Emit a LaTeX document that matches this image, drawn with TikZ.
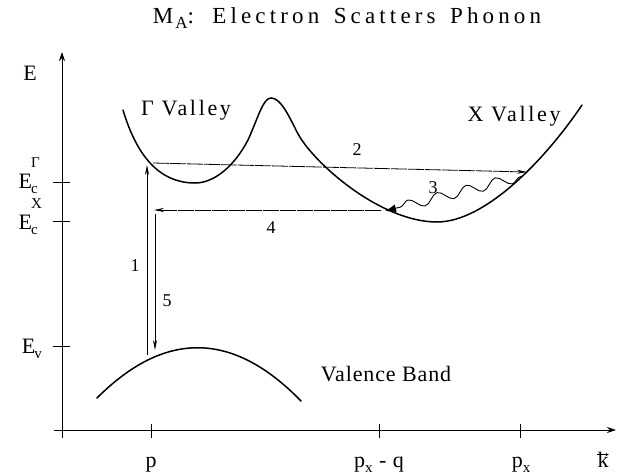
\documentclass[tikz,border=0pt]{standalone}
\usepackage{fontspec}
\setmainfont{Liberation Serif}[LetterSpace=4]
\newfontfamily\titlefont{Liberation Serif}[LetterSpace=18]
\newfontfamily\valleyfont{Liberation Serif}[LetterSpace=12]
\usetikzlibrary{arrows.meta,decorations.pathmorphing}
\newcommand{\smallfs}{\fontsize{15}{15}\selectfont}
\newcommand{\lowc}[1]{\raisebox{-0.5ex}{\smallfs #1}}
\newcommand{\highsup}[1]{\rlap{\raisebox{0.92em}{\smallfs #1}}}
\tikzset{
  axisline/.style={-{Stealth[length=9pt,width=6pt,inset=3pt]},line width=0.8pt},
  tickmark/.style={line width=0.8pt},
  bandline/.style={line width=1.5pt,line cap=round},
  transarrow/.style={-{Stealth[length=10pt,width=4pt]},line width=0.8pt},
  dashtrans/.style={transarrow,dash pattern=on 16pt off 1pt},
  phononarrow/.style={-{Latex[length=11pt,width=8pt]},line width=0.9pt,decorate,
    decoration={snake,amplitude=5pt,segment length=30pt,pre length=3pt,post length=9pt}},
  biglbl/.style={font=\fontsize{22}{26}\selectfont,inner sep=0pt},
  valleylbl/.style={font=\fontsize{22}{26}\selectfont\valleyfont,inner sep=0pt},
  numlbl/.style={font=\fontsize{18}{20}\selectfont,inner sep=0pt}
}
\begin{document}
\begin{tikzpicture}[x=1pt,y=-1pt]
\useasboundingbox (0,0) rectangle (621,474);
\node[biglbl,font=\fontsize{23}{26}\selectfont\titlefont] (title) at (347,18) {M\kern2pt\raisebox{-0.4ex}{\fontsize{17}{17}\selectfont A}:\hspace{0.8em}Electron\hspace{0.2em} Scatters\hspace{0.2em} Phonon};
\coordinate (ytop) at (62,52);
\coordinate (ybot) at (62,438);
\coordinate (xleft) at (54,430);
\coordinate (xright) at (616,430);
\draw[axisline] (ybot) -- (ytop);
\draw[axisline] (xleft) -- (xright);
\node[biglbl] (elab) at (30,73) {E};
\foreach \y/\n in {182/tg,221/tx,346/tv}{\draw[tickmark] (53,\y) -- (70,\y) coordinate (\n);}
\foreach \x/\n in {62/k0,151/kp,379/kq,520/kx}{\draw[tickmark] (\x,424) -- (\x,438) coordinate (\n);}
\node[biglbl,anchor=base east] (ecg) at (38,188) {E\kern-1pt\highsup{Γ}\lowc{c}};
\node[biglbl,anchor=base east] (ecx) at (38,229) {E\kern-1pt\highsup{X}\lowc{c}};
\node[biglbl,anchor=base east] (ev) at (42,353) {E\kern-1pt\lowc{v}};
\node[biglbl,anchor=base] (plab) at (151,467) {p};
\node[biglbl,anchor=base] (pqlab) at (379,467) {p\lowc{x} - q};
\node[biglbl,anchor=base] (pxlab) at (521,467) {p\lowc{x}};
\node[biglbl,anchor=base] (klab) at (603,467) {k};
\draw[line width=0.6pt,-{Stealth[length=3pt,width=3pt]}] ([yshift=-3pt]klab.north west) -- ([yshift=-3pt]klab.north east);
\draw[bandline] (123,110) .. controls (138,160) and (162,183) .. (195,183)
  .. controls (215,183) and (235,165) .. (248,140)
  .. controls (258,118) and (263,98) .. (271,98)
  .. controls (280,98) and (287,112) .. (297,132)
  .. controls (312,162) and (380,222) .. (437,222)
  .. controls (485,222) and (545,160) .. (582,105);
\draw[bandline] (97,398) .. controls (165,330) and (233,331) .. (301,401);
\node[valleylbl,anchor=base] (gval) at (186,115) {Γ\hspace{0.35em}Valley};
\node[valleylbl,anchor=base] (xval) at (514,121) {X\hspace{0.35em}Valley};
\node[biglbl,anchor=base] (vband) at (386,381) {Valence Band};
\coordinate (t1s) at (147,355);
\coordinate (t1e) at (147,165);
\coordinate (t2s) at (153,163);
\coordinate (t2e) at (527,172);
\coordinate (t3s) at (523,176);
\coordinate (t3e) at (385,211);
\coordinate (t4s) at (381,210);
\coordinate (t4e) at (154,210);
\coordinate (t5s) at (155,214);
\coordinate (t5e) at (155,350);
\draw[transarrow] (t1s) -- (t1e);
\draw[dashtrans] (t2s) -- (t2e);
\draw[phononarrow] (t3s) -- (t3e);
\draw[dashtrans] (t4s) -- (t4e);
\draw[transarrow] (t5s) -- (t5e);
\node[numlbl] (n1) at (135,266) {1};
\node[numlbl] (n2) at (357,150) {2};
\node[numlbl] (n3) at (433,188) {3};
\node[numlbl] (n4) at (271,228) {4};
\node[numlbl] (n5) at (167,301) {5};
\end{tikzpicture}
\end{document}
